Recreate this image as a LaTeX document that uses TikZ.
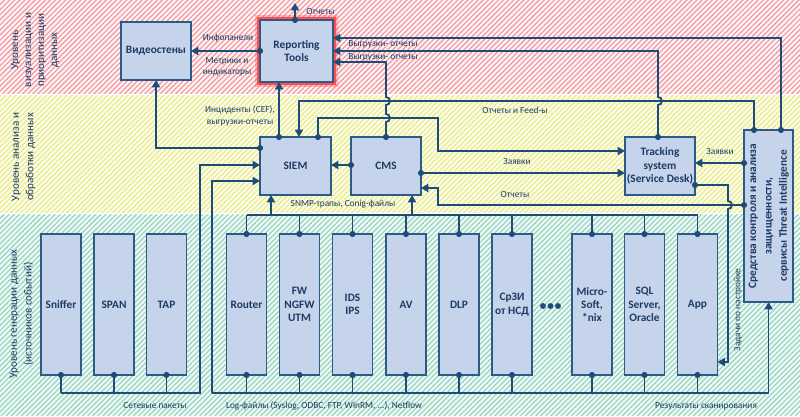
\documentclass[tikz,border=0pt]{standalone}
\usepackage{fontspec}
\setmainfont{Carlito}
\usetikzlibrary{arrows.meta,patterns.meta,calc}
\definecolor{boxfill}{HTML}{C5D4EA}
\definecolor{boxline}{HTML}{2B5B86}
\definecolor{wire}{HTML}{1F4B78}
\definecolor{txt}{HTML}{1F3A64}
\definecolor{redst}{HTML}{F29CA3}
\definecolor{yelst}{HTML}{E8EC8E}
\definecolor{grnst}{HTML}{9AD6C2}
\definecolor{redbg}{HTML}{FFF7F7}
\definecolor{yelbg}{HTML}{FDFDEE}
\definecolor{grnbg}{HTML}{F2FAF7}
\definecolor{glow}{HTML}{FF4040}
\newcommand{\jd}[1]{\fill[wire] (#1) circle[radius=2.3pt];}
\tikzset{
  box/.style={draw=boxline, fill=boxfill, line width=1.4pt, text=txt, outer sep=0pt,
    font=\bfseries\fontsize{8.5}{10}\selectfont, align=center, inner sep=0pt},
  tallbox/.style={box, minimum width=30pt, minimum height=105.75pt},
  midbox/.style={box, minimum width=52.5pt, minimum height=43.5pt},
  wirestyle/.style={draw=wire, line width=1.4pt},
  arr/.style={wirestyle, -{Triangle[length=5.5pt,width=6pt]}},
  lbl/.style={text=txt, font=\fontsize{7}{8.5}\selectfont, align=center, inner sep=0pt},
  bandlbl/.style={text=txt, align=center, inner sep=0pt, rotate=90},
  hatch/.style={pattern={Lines[angle=45,distance=2.7pt,line width=1pt]}},
}
\begin{document}
\begin{tikzpicture}[x=0.75pt,y=-0.75pt]
\useasboundingbox (0,0) rectangle (800,417);
\fill[white] (0,0) rectangle (800,417);
% bands
\fill[redbg] (0,0) rectangle (800,94);
\path[hatch, pattern color=redst] (0,0) rectangle (800,94);
\fill[yelbg] (0,96) rectangle (800,213);
\path[hatch, pattern color=yelst] (0,96) rectangle (800,213);
\fill[grnbg] (0,215) rectangle (800,415);
\path[hatch, pattern color=grnst] (0,215) rectangle (800,415);

\node[bandlbl, font=\fontsize{8.3}{9.75}\selectfont] (bvis) at (35,50) {Уровень\\визуализации и\\приоритизации\\данных};
\node[bandlbl, font=\fontsize{8.3}{11}\selectfont] (bana) at (23.5,157) {Уровень анализа и\\обработки данных};
\node[bandlbl, font=\fontsize{8.3}{11}\selectfont] (bgen) at (21.5,314) {Уровень генерации данных\\(источников событий)};

% upper boxes
\node[midbox] (vid) at (156,51) {Видеостены};
\node[box, minimum width=54.75pt, minimum height=46.5pt,
  preaction={draw=glow, draw opacity=0.3, line width=8pt},
  preaction={draw=glow, draw opacity=0.85, line width=4.6pt}] (rep) at (296.5,51) {Reporting\\Tools};
\node[box, minimum width=53.25pt, minimum height=43.5pt] (siem) at (295.5,166) {SIEM};
\node[midbox] (cms) at (386,166) {CMS};
\node[midbox] (track) at (660,166) {Tracking\\system\\(Service Desk)};
\node[box, minimum width=36.75pt, minimum height=129pt, font=\bfseries\fontsize{8.5}{11.5}\selectfont] (threat) at (768.5,216)
  {\rotatebox{90}{\begin{tabular}{@{}c@{}}Средства контроля и анализа\\защищенности,\\сервисы Threat Intelligence\end{tabular}}};

% source boxes
\node[tallbox] (sniff) at (61,304.5) {Sniffer};
\node[tallbox] (span) at (114,304.5) {SPAN};
\node[tallbox] (tap) at (166.5,304.5) {TAP};
\node[tallbox] (router) at (246.5,304.5) {Router};
\node[tallbox] (fw) at (299.5,304.5) {FW\\NGFW\\UTM};
\node[tallbox] (ids) at (352.5,304.5) {IDS\\IPS};
\node[tallbox] (av) at (406,304.5) {AV};
\node[tallbox] (dlp) at (459,304.5) {DLP};
\node[tallbox] (srzi) at (512,304.5) {СрЗИ\\от НСД};
\node[tallbox] (micro) at (592,304.5) {Micro-\\Soft,\\*nix};
\node[tallbox] (sql) at (644.5,304.5) {SQL\\Server,\\Oracle};
\node[tallbox] (app) at (697.5,304.5) {App};
\fill[wire] (543,306) circle[radius=2.2pt] (550.5,306) circle[radius=2.2pt] (558,306) circle[radius=2.2pt];

% Reporting -> out
\coordinate (repout) at (295,3);
\jd{rep.north -| 295,0}
\draw[arr] (rep.north -| 295,0) -- (repout);
\node[lbl, anchor=west] (lotch) at (306,12) {Отчеты};

% Reporting -> video walls
\jd{rep.west}
\draw[arr] (rep.west) -- (vid.east);
\node[lbl] (linfo) at (228,38) {Инфопанели};
\node[lbl] (lmetr) at (227,67) {Метрики и\\индикаторы};

% SIEM -> Reporting
\jd{siem.north -| 279,0}
\draw[arr] (siem.north -| 279,0) -- (rep.south -| 279,0);
\node[lbl] (linc) at (240,116) {Инциденты (CEF),\\выгрузки-отчеты};

% SIEM -> video walls
\jd{siem.west |- 0,148}
\draw[arr] (siem.west |- 0,148) -| (vid.south);

% sniffer bus
\foreach \b in {sniff,span,tap} {\jd{\b.south} \draw[wirestyle] (\b.south) -- ++(0,18);}
\draw[arr] (sniff.south |- 0,393) -| (200,165) -- (siem.west |- 0,165);
\node[lbl] (lnet) at (155,406) {Сетевые пакеты};

% log bus (bottom) and SNMP bus (top)
\foreach \b in {router,fw,ids,av,dlp,srzi,micro,sql,app} {
  \jd{\b.south} \draw[wirestyle] (\b.south) -- ++(0,18);
  \jd{\b.north} \draw[wirestyle] (\b.north) -- ++(0,-19);
}
\draw[wirestyle] (212,393) -- (threat.south |- 0,393);
\draw[arr] (212,393) |- (siem.west |- 0,181);
\draw[arr] (threat.south |- 0,393) -- (threat.south);
\node[lbl] (llog) at (324,406) {Log-файлы (Syslog, ODBC, FTP, WinRM, ...), Netflow};
\node[lbl] (lscan) at (706,406) {Результаты сканирования};

\draw[wirestyle] (router.north |- 0,215) -- (app.north |- 0,215);
\draw[arr] (271,215) -- (siem.south -| 271,0);
\draw[arr] (412,215) -- (cms.south -| 412,0);
\node[lbl] (lsnmp) at (343,204) {SNMP-трапы, Conig-файлы};

% CMS -> SIEM
\jd{cms.west |- 0,165}
\draw[arr] (cms.west |- 0,165) -- (siem.east |- 0,165);

% CMS -> Reporting (with hops)
\jd{cms.north}
\draw[arr] (cms.north) -- (386,122) arc[start angle=-90,end angle=90,radius=3pt]
  -- (386,105) arc[start angle=-90,end angle=90,radius=3pt] -- (386,62) -- (rep.east |- 0,62);

% SIEM -> Tracking
\jd{siem.north -| 318,0}
\draw[arr] (siem.north -| 318,0) |- (438,118) |- (track.west |- 0,151);

% CMS -> Tracking
\jd{cms.east |- 0,173}
\draw[arr] (cms.east |- 0,173) -- (track.west |- 0,173);
\node[lbl] (lzay1) at (517,162) {Заявки};

% Threat -> CMS
\jd{threat.west |- 0,205}
\draw[arr] (threat.west |- 0,205) -| (438,188) -- (cms.east |- 0,188);
\node[lbl] (lotch2) at (515,195) {Отчеты};

% Threat -> SIEM
\jd{threat.north -| 754,0}
\draw[arr] (threat.north -| 754,0) |- (299,101) -- (siem.north -| 299,0);
\node[lbl] (lfeed) at (515,110) {Отчеты и Feed-ы};

% Tracking -> Reporting (hop)
\jd{track.north -| 658,0}
\draw[arr] (track.north -| 658,0) -- (658,105) arc[start angle=-90,end angle=90,radius=3pt]
  -- (658,51) -- (rep.east |- 0,51);

% Threat -> Reporting
\jd{threat.north -| 781,0}
\draw[arr] (threat.north -| 781,0) |- (rep.east |- 0,38);
\node[lbl] (lvyg1) at (383,44) {Выгрузки- отчеты};
\node[lbl] (lvyg2) at (383,57) {Выгрузки- отчеты};

% Threat -> Tracking
\jd{threat.west |- 0,163}
\draw[arr] (threat.west |- 0,163) -- (track.east |- 0,163);
\node[lbl] (lzay2) at (720,152) {Заявки};

% Tracking -> App (hop)
\jd{track.east |- 0,185}
\draw[arr] (track.east |- 0,185) -- (728,185) -- (728,201) arc[start angle=90,end angle=-90,radius=3pt]
  -- (728,362) -- (app.east |- 0,362);
\node[lbl, rotate=90] (lzad) at (738,310) {Задачи по настройке};
\end{tikzpicture}
\end{document}
